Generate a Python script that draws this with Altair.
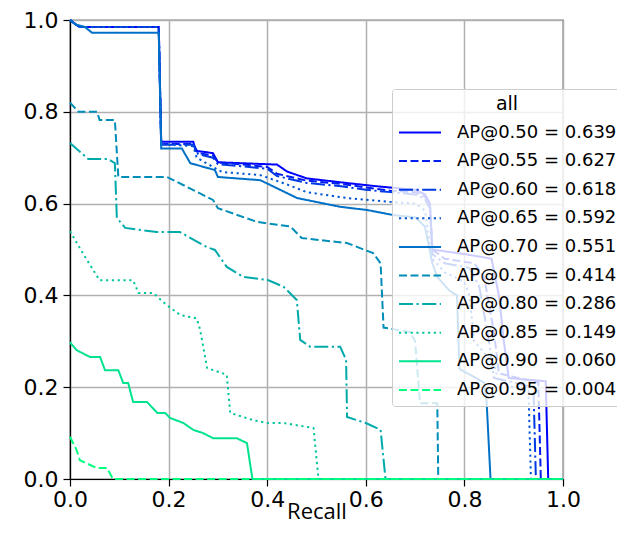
import altair as alt
import pandas as pd

ious = ["0.50", "0.55", "0.60", "0.65", "0.70", "0.75", "0.80", "0.85", "0.90", "0.95"]
aps = ["0.639", "0.627", "0.618", "0.592", "0.551", "0.414", "0.286", "0.149", "0.060", "0.004"]
labels = [f"AP@{i} = {a}" for i, a in zip(ious, aps)]

# matplotlib "winter" colormap sampled at 10 points
colors = ["#0000ff", "#001cf1", "#0039e3", "#0055d5", "#0071c6",
          "#008eb8", "#00aaaa", "#00c69c", "#00e38e", "#00ff80"]
dash_solid = [1, 0]
dash_dashed = [8, 3.5]
dash_dashdot = [14, 3.5, 2.2, 3.5]
dash_dotted = [2.2, 3.6]
dashes = [dash_solid, dash_dashed, dash_dashdot, dash_dotted] * 2 + [dash_solid, dash_dashed]

r_050 = [0, 0.012, 0.02, 0.18, 0.185, 0.25, 0.255, 0.29, 0.30, 0.42, 0.44, 0.48, 0.56, 0.62, 0.70, 0.72, 0.73, 0.735, 0.80, 0.855, 0.87, 0.88, 0.89, 0.965, 0.97, 1.0]
p_050 = [1.0, 0.99, 0.985, 0.985, 0.735, 0.735, 0.715, 0.71, 0.69, 0.685, 0.67, 0.655, 0.645, 0.638, 0.63, 0.62, 0.60, 0.50, 0.49, 0.48, 0.40, 0.30, 0.22, 0.213, 0.0, 0.0]

r_055 = [0, 0.012, 0.02, 0.18, 0.185, 0.25, 0.26, 0.29, 0.30, 0.40, 0.42, 0.48, 0.55, 0.60, 0.65, 0.70, 0.72, 0.73, 0.735, 0.76, 0.82, 0.84, 0.86, 0.87, 0.95, 0.955, 1.0]
p_055 = [1.0, 0.99, 0.985, 0.985, 0.73, 0.73, 0.71, 0.705, 0.69, 0.68, 0.665, 0.65, 0.643, 0.635, 0.628, 0.625, 0.615, 0.60, 0.50, 0.48, 0.47, 0.44, 0.32, 0.23, 0.21, 0.0, 0.0]

r_060 = [0, 0.012, 0.02, 0.18, 0.185, 0.25, 0.26, 0.29, 0.30, 0.40, 0.42, 0.48, 0.55, 0.60, 0.65, 0.70, 0.72, 0.73, 0.735, 0.76, 0.81, 0.83, 0.85, 0.86, 0.94, 0.945, 1.0]
p_060 = [1.0, 0.99, 0.985, 0.985, 0.728, 0.728, 0.708, 0.70, 0.686, 0.676, 0.66, 0.645, 0.638, 0.63, 0.625, 0.62, 0.61, 0.59, 0.49, 0.47, 0.46, 0.42, 0.30, 0.22, 0.20, 0.0, 0.0]

r_065 = [0, 0.012, 0.02, 0.18, 0.185, 0.25, 0.257, 0.308, 0.386, 0.432, 0.48, 0.562, 0.656, 0.70, 0.72, 0.735, 0.76, 0.80, 0.81, 0.82, 0.86, 0.87, 0.93, 0.935, 1.0]
p_065 = [1.0, 0.99, 0.985, 0.985, 0.73, 0.725, 0.70, 0.669, 0.662, 0.645, 0.625, 0.612, 0.603, 0.60, 0.585, 0.48, 0.45, 0.43, 0.40, 0.30, 0.25, 0.21, 0.19, 0.0, 0.0]

r_070 = [0, 0.012, 0.03, 0.045, 0.18, 0.185, 0.227, 0.244, 0.294, 0.30, 0.386, 0.461, 0.548, 0.603, 0.656, 0.70, 0.72, 0.735, 0.745, 0.77, 0.785, 0.79, 0.84, 0.845, 0.853, 1.0]
p_070 = [1.0, 0.99, 0.985, 0.972, 0.972, 0.72, 0.72, 0.688, 0.673, 0.658, 0.651, 0.612, 0.593, 0.586, 0.575, 0.57, 0.55, 0.47, 0.44, 0.41, 0.40, 0.24, 0.21, 0.17, 0.0, 0.0]

r_075 = [0, 0.017, 0.055, 0.06, 0.091, 0.098, 0.197, 0.29, 0.30, 0.38, 0.447, 0.47, 0.562, 0.615, 0.63, 0.636, 0.69, 0.70, 0.71, 0.745, 0.747, 1.0]
p_075 = [0.82, 0.80, 0.80, 0.782, 0.782, 0.658, 0.658, 0.608, 0.59, 0.56, 0.55, 0.525, 0.514, 0.492, 0.47, 0.33, 0.32, 0.30, 0.165, 0.165, 0.0, 0.0]

r_080 = [0, 0.037, 0.078, 0.091, 0.095, 0.112, 0.176, 0.223, 0.278, 0.294, 0.318, 0.352, 0.40, 0.433, 0.46, 0.467, 0.487, 0.548, 0.56, 0.562, 0.60, 0.63, 0.64, 1.0]
p_080 = [0.732, 0.697, 0.697, 0.688, 0.569, 0.547, 0.538, 0.538, 0.505, 0.499, 0.462, 0.44, 0.434, 0.419, 0.39, 0.303, 0.288, 0.288, 0.26, 0.135, 0.122, 0.107, 0.0, 0.0]

r_085 = [0, 0.027, 0.06, 0.128, 0.139, 0.169, 0.196, 0.224, 0.257, 0.264, 0.278, 0.318, 0.325, 0.372, 0.40, 0.433, 0.494, 0.504, 1.0]
p_085 = [0.54, 0.49, 0.433, 0.433, 0.405, 0.405, 0.379, 0.357, 0.35, 0.325, 0.242, 0.227, 0.144, 0.128, 0.122, 0.122, 0.111, 0.0, 0.0]

r_090 = [0, 0.013, 0.04, 0.061, 0.071, 0.098, 0.108, 0.118, 0.128, 0.156, 0.177, 0.193, 0.203, 0.23, 0.25, 0.27, 0.29, 0.338, 0.359, 0.37, 1.0]
p_090 = [0.298, 0.281, 0.266, 0.266, 0.237, 0.237, 0.209, 0.209, 0.168, 0.168, 0.144, 0.144, 0.133, 0.122, 0.107, 0.10, 0.089, 0.089, 0.078, 0.0, 0.0]

r_095 = [0, 0.013, 0.02, 0.054, 0.075, 0.087, 1.0]
p_095 = [0.092, 0.064, 0.041, 0.024, 0.024, 0.0, 0.0]

recalls = [r_050, r_055, r_060, r_065, r_070, r_075, r_080, r_085, r_090, r_095]
precisions = [p_050, p_055, p_060, p_065, p_070, p_075, p_080, p_085, p_090, p_095]

rows = []
for lab, rs, ps in zip(labels, recalls, precisions):
    for k, (r, p) in enumerate(zip(rs, ps)):
        rows.append({"label": lab, "recall": r, "precision": p, "idx": k})
df = pd.DataFrame(rows)

ticks = [0.0, 0.2, 0.4, 0.6, 0.8, 1.0]

leg = dict(title="all", orient="none", legendX=322, legendY=69, direction="vertical")

chart = alt.Chart(df).mark_line(strokeWidth=2).encode(
    x=alt.X("recall:Q",
            scale=alt.Scale(domain=[0, 1], nice=False),
            axis=alt.Axis(values=ticks, format=".1f", title="Recall",
                          titleFont="Open Sans", titleFontSize=22, titleFontWeight="normal",
                          titleColor="black", titleY=39, titleBaseline="alphabetic",
                          labelPadding=3, labelFlush=False)),
    y=alt.Y("precision:Q",
            scale=alt.Scale(domain=[0, 1], nice=False),
            axis=alt.Axis(values=ticks, format=".1f", title=None, labelPadding=5)),
    color=alt.Color("label:N", scale=alt.Scale(domain=labels, range=colors),
                    legend=alt.Legend(**leg)),
    strokeDash=alt.StrokeDash("label:N", scale=alt.Scale(domain=labels, range=dashes),
                              legend=alt.Legend(**leg)),
    order=alt.Order("idx:Q"),
).properties(
    width=493, height=459,
    autosize=alt.AutoSizeParams(type="none"),
    padding={"left": 62, "top": 12, "right": 54, "bottom": 46},
).configure_view(
    stroke="black", strokeWidth=1.2
).configure_axis(
    grid=True, gridColor="#b0b0b0", gridWidth=1.5,
    domainColor="black", domainWidth=1.2,
    tickColor="black", tickSize=7, tickWidth=1.2,
    labelFont="DejaVu Sans", labelFontSize=22, labelColor="black",
).configure_legend(
    padding=6, fillColor="rgba(255,255,255,0.8)", strokeColor="#cccccc", cornerRadius=3,
    titleFont="DejaVu Sans", titleFontSize=19, titleFontWeight="normal", titleColor="black",
    titleAnchor="middle", titleAlign="center", titlePadding=9,
    labelFont="DejaVu Sans", labelFontSize=18, labelColor="black", labelLimit=400,
    labelOffset=15, symbolSize=1764, symbolStrokeWidth=2, symbolType="stroke",
    rowPadding=9.6, clipHeight=19,
)

chart.save("out.html", embed_options={"renderer": "svg", "actions": False})
